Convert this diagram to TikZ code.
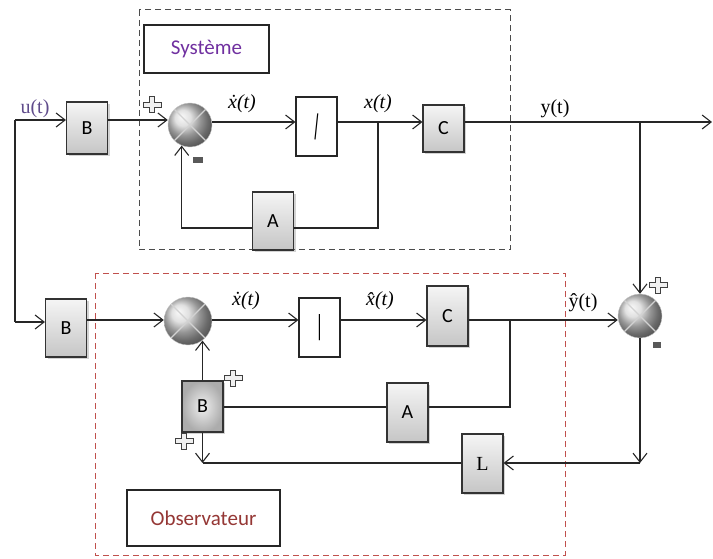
\documentclass[tikz,border=0pt]{standalone}
\usepackage{fontspec}
\setmainfont{Liberation Serif}
\newfontfamily\carl{Carlito}
\usetikzlibrary{arrows.meta,shadows,calc}
\definecolor{sysviolet}{HTML}{7030A0}
\definecolor{obsred}{HTML}{953735}
\definecolor{obsdash}{HTML}{C0504D}
\definecolor{uviolet}{HTML}{5F4B8B}
\tikzset{
  plussign/.pic={\draw[draw=black!75, fill=gray!12, line width=1pt]
    (-2.6,-8) -- (2.6,-8) -- (2.6,-2.6) -- (9,-2.6) -- (9,2.6) -- (2.6,2.6) -- (2.6,8)
    -- (-2.6,8) -- (-2.6,2.6) -- (-9,2.6) -- (-9,-2.6) -- (-2.6,-2.6) -- cycle;}
}
\begin{document}
\begin{tikzpicture}[x=1pt,y=-1pt,
  line/.style={line width=1.1pt, draw=black!85},
  arr/.style={line, -{Straight Barb[length=9pt,width=14pt,line width=1.1pt]}},
  gbox/.style={draw=black!80, line width=1.1pt, top color=gray!8, bottom color=gray!45,
    drop shadow={opacity=0.35,shadow xshift=2pt,shadow yshift=-2pt},
    inner sep=0pt, minimum width=41pt, font=\carl\fontsize{20}{20}\selectfont},
  ibox/.style={draw=black!85, line width=1.1pt, fill=white, inner sep=0pt,
    minimum width=41pt, minimum height=59pt, font=\fontsize{24}{24}\selectfont},
  sumnode/.style={circle, minimum size=#1, inner sep=0pt, shading=ball, ball color=gray!32, draw=gray!45},
  lbl/.style={font=\fontsize{20}{22}\selectfont, inner sep=1pt},
  title/.style={draw=black!85, line width=1.1pt, fill=white, font=\carl\fontsize{21}{22}\selectfont},
  crossl/.style={white!65!gray, line width=1.3pt}
]
\useasboundingbox (0,0) rectangle (713,559);

% dashed frames
\draw[gray!60!black, line width=1pt, dash pattern=on 6pt off 4pt] (139,10) rectangle (510,250);
\draw[obsdash, line width=1pt, dash pattern=on 6pt off 4pt] (95,273) rectangle (565,555);

% titles
\node[title, minimum width=125pt, minimum height=48pt, text=sysviolet] (sys) at (206.5,49) {Système};
\node[title, minimum width=153pt, minimum height=56pt, text=obsred] (obs) at (203.5,518) {Observateur};

% system blocks
\node[gbox, minimum height=52pt] (b1) at (87,128) {B};
\node[sumnode=44pt] (s1) at (190,125) {};
\draw[crossl] (s1.45) -- (s1.225) (s1.135) -- (s1.315);
\node[ibox] (i1) at (316.5,126.5) {\rotatebox{-6}{\scalebox{1}[1.2]{|}}};
\node[gbox, minimum height=47pt] (c1) at (443.5,128.5) {C};
\node[gbox, minimum height=58pt] (a1) at (273,221) {A};

% observer blocks
\node[gbox, minimum height=58pt] (b3) at (66,328) {B};
\node[sumnode=48pt] (s2) at (188,321) {};
\draw[crossl] (s2.45) -- (s2.225) (s2.135) -- (s2.315);
\node[ibox] (i2) at (319.5,327.5) {\scalebox{1}[1.2]{|}};
\node[gbox, minimum height=60pt] (c2) at (447.5,316) {C};
\node[gbox, minimum height=59pt] (a2) at (407.5,412.5) {A};
\node[gbox, minimum height=51pt, inner color=gray!12, outer color=gray!65] (b2) at (202.5,406.5) {B};
\node[gbox, minimum height=59pt, font=\fontsize{20}{20}\selectfont] (l1) at (482.5,463.5) {L};
\node[sumnode=44pt] (s3) at (640,316) {};
\draw[crossl] (s3.45) -- (s3.225) (s3.135) -- (s3.315);

% coordinates
\coordinate (uin) at (15,120);
\coordinate (low) at (15,322);
\coordinate (r1) at (0,122);
\coordinate (fb1) at (0,228);
\coordinate (tap1) at (378,122);
\coordinate (tap2) at (640,122);
\coordinate (yend) at (712,122);
\coordinate (r2) at (0,320);
\coordinate (tap3) at (510,320);
\coordinate (fb2) at (0,407);
\coordinate (lrow) at (0,463);
\coordinate (tap4) at (640,463);

% system connectors
\draw[arr] (uin) -- (uin -| b1.west);
\draw[line] (uin) -- (low);
\draw[arr] (b1.east |- uin) -- (s1.west |- uin);
\draw[arr] (s1.east |- r1) -- (i1.west |- r1);
\draw[arr] (i1.east |- r1) -- (c1.west |- r1);
\draw[line] (tap1) |- (a1.east |- fb1);
\draw[arr] (a1.west |- fb1) -| (s1.248);
\draw[arr] (c1.east |- r1) -- (yend);
\draw[arr] (tap2) -- (s3.north);

% observer connectors
\draw[arr] (low) -- (low -| b3.west);
\draw[arr] (b3.east |- r2) -- (s2.west |- r2);
\draw[arr] (s2.east |- r2) -- (i2.west |- r2);
\draw[arr] (i2.east |- r2) -- (c2.west |- r2);
\draw[arr] (c2.east |- r2) -- (s3.west |- r2);
\draw[line] (tap3) |- (a2.east |- fb2);
\draw[line] (a2.west |- fb2) -- (b2.east |- fb2);
\draw[arr] (b2.north) -- (b2.north |- s2.306);
\draw[arr] (b2.south) -- (b2.south |- lrow);
\draw[line] (l1.west |- lrow) -- (b2.south |- lrow);
\draw[arr] (s3.south) -- (tap4);
\draw[arr] (tap4) -- (l1.east |- lrow);

% signal labels
\node[lbl, text=uviolet] (ul) at (35,109) {u(t)};
\node[lbl] (xd1) at (242,104) {\textit{\.x(t)}};
\node[lbl] (x1) at (378,104) {\textit{x(t)}};
\node[lbl] (y1) at (555,109) {y(t)};
\node[lbl] (xd2) at (246,301) {\textit{\.x(t)}};
\node[lbl] (xh2) at (380,301) {\textit{\^x(t)}};
\node[lbl] (yh) at (583,303) {\^y(t)};

% signs
\pic at (152,105) {plussign};
\pic at (233,378) {plussign};
\pic at (184,441) {plussign};
\pic at (658,285) {plussign};
\fill[black!65] (193,157) rectangle (203,163);
\fill[black!65] (653,342) rectangle (661,348);
\end{tikzpicture}
\end{document}
